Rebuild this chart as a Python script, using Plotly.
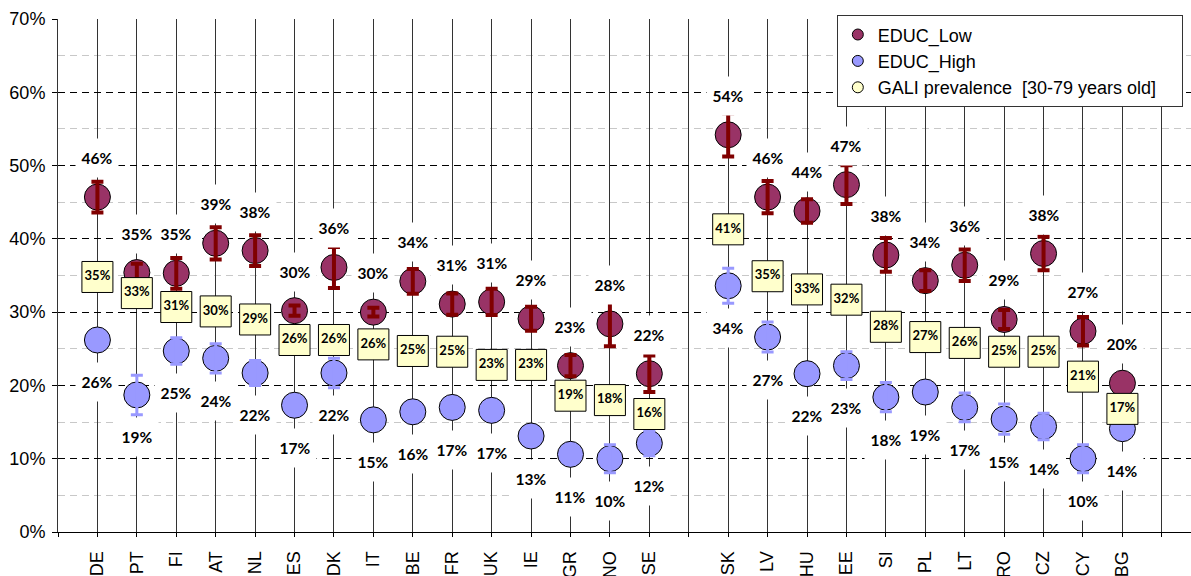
import plotly.graph_objects as go

# Countries in two groups, separated by an empty slot on the category axis
group_a = ["DE", "PT", "FI", "AT", "NL", "ES", "DK", "IT", "BE", "FR", "UK", "IE", "GR", "NO", "SE"]
group_b = ["SK", "LV", "HU", "EE", "SI", "PL", "LT", "RO", "CZ", "CY", "BG"]

# Share with GALI (%), low and high education, with half-width of the confidence interval
educ_low = [45.7, 35.4, 35.3, 39.4, 38.4, 30.2, 36.1, 30.0, 34.2, 31.1, 31.4, 29.1, 22.7, 28.4, 21.6,
            54.2, 45.7, 43.8, 47.4, 37.8, 34.3, 36.4, 29.0, 38.0, 27.4, 20.3]
educ_low_err = [2.1, 1.2, 2.1, 2.2, 2.1, 0.7, 2.8, 0.6, 1.7, 1.45, 1.8, 1.65, 1.45, 3.05, 2.5,
                2.95, 2.2, 1.6, 2.65, 2.3, 1.4, 2.15, 1.3, 2.3, 1.95, None]
educ_high = [26.2, 18.7, 24.7, 23.7, 21.7, 17.3, 21.7, 15.3, 16.4, 17.0, 16.6, 13.1, 10.6, 10.0, 12.1,
             33.6, 26.6, 21.6, 22.7, 18.4, 19.1, 17.0, 15.4, 14.4, 10.0, 14.1]
educ_high_err = [None, 2.7, 1.8, 2.0, 1.7, None, 2.0, None, None, None, None, None, None, 1.9, 1.7,
                 2.4, 2.05, None, 1.9, 2.0, None, 1.95, 2.05, 1.8, 1.9, None]
# Overall GALI prevalence, 30-79 years old (%)
gali = [34.8, 32.6, 30.7, 30.1, 29.0, 26.2, 26.2, 25.6, 24.7, 24.6, 22.8, 22.8, 18.6, 18.0, 16.1,
        41.3, 34.9, 33.1, 31.7, 28.0, 26.6, 25.8, 24.6, 24.6, 21.2, 16.8]

y_ticks = [0, 10, 20, 30, 40, 50, 60, 70]
y_tick_text = ["0%", "10%", "20%", "30%", "40%", "50%", "60%", "70%"]

series_names = ["EDUC_Low", "EDUC_High", "GALI prevalence\u00a0 [30-79 years old]"]

COL_LOW = "#993366"
COL_HIGH = "#9999FF"
COL_GALI = "#FFFFCC"
COL_ERR_LOW = "#800000"

# Slots on the category axis: empty slot at the origin, between groups and after the last group
slots = [""] + group_a + [""] + group_b + [""]
countries = group_a + group_b
xpos = [slots.index(c) for c in countries]


def pct(v):
    return f"{v:.0f}%"


fig = go.Figure()

# Data points
fig.add_trace(go.Scatter(
    x=xpos, y=educ_low, mode="markers", showlegend=False, hoverinfo="skip",
    marker=dict(symbol="circle", size=26, color=COL_LOW, line=dict(color="black", width=1)),
))
fig.add_trace(go.Scatter(
    x=xpos, y=educ_high, mode="markers", showlegend=False, hoverinfo="skip",
    marker=dict(symbol="circle", size=26, color=COL_HIGH, line=dict(color="black", width=1)),
))

# Confidence intervals, drawn over the circles
lo_idx = [i for i, e in enumerate(educ_low_err) if e is not None]
fig.add_trace(go.Scatter(
    x=[xpos[i] for i in lo_idx], y=[educ_low[i] for i in lo_idx], mode="markers",
    marker=dict(size=1, opacity=0), showlegend=False, hoverinfo="skip",
    error_y=dict(type="data", array=[educ_low_err[i] for i in lo_idx], symmetric=True,
                 color=COL_ERR_LOW, thickness=4, width=6),
))
hi_idx = [i for i, e in enumerate(educ_high_err) if e is not None]
fig.add_trace(go.Scatter(
    x=[xpos[i] for i in hi_idx], y=[educ_high[i] for i in hi_idx], mode="markers",
    marker=dict(size=1, opacity=0), showlegend=False, hoverinfo="skip",
    error_y=dict(type="data", array=[educ_high_err[i] for i in hi_idx], symmetric=True,
                 color=COL_HIGH, thickness=3, width=6),
))

# GALI prevalence boxes with their value
fig.add_trace(go.Scatter(
    x=xpos, y=gali, mode="markers+text", showlegend=False, hoverinfo="skip",
    marker=dict(symbol="square", size=31, color=COL_GALI, line=dict(color="black", width=1)),
    text=[pct(v) for v in gali], textposition="middle center",
    textfont=dict(family="Lato", size=13, color="black", weight="bold"),
))

# Legend entries (round symbols); trailing spaces widen the legend box
legend_labels = [series_names[0], series_names[1], series_names[2] + "\u00a0" * 4]
for name, col in zip(legend_labels, [COL_LOW, COL_HIGH, COL_GALI]):
    fig.add_trace(go.Scatter(
        x=[None], y=[None], mode="markers", name=name, hoverinfo="skip",
        marker=dict(symbol="circle", size=11, color=col, line=dict(color="black", width=1)),
    ))

# Value labels above the low-education points and below the high-education points
label_font = dict(family="Lato", size=15.5, color="black", weight="bold")
for x, v in zip(xpos, educ_low):
    fig.add_annotation(x=x, y=v, text=pct(v), showarrow=False, yshift=39,
                       xanchor="center", yanchor="middle", bgcolor="white",
                       width=40, height=36, borderpad=1, font=label_font)
for x, v in zip(xpos, educ_high):
    fig.add_annotation(x=x, y=v, text=pct(v), showarrow=False, yshift=-42.5,
                       xanchor="center", yanchor="middle", bgcolor="white",
                       width=40, height=36, borderpad=1, font=label_font)

fig.update_layout(
    width=1191, height=576,
    margin=dict(l=58, r=0, t=19, b=44, autoexpand=False),
    paper_bgcolor="white", plot_bgcolor="white",
    hovermode=False,
    font=dict(family="Liberation Sans, Arial, sans-serif", size=18, color="black"),
    legend=dict(
        x=0.6874, y=1.0072, xanchor="left", yanchor="top",
        bgcolor="white", bordercolor="#333333", borderwidth=1,
        font=dict(family="Liberation Sans, Arial, sans-serif", size=18, color="black"),
        itemsizing="trace", tracegroupgap=0,
    ),
    showlegend=True,
)

fig.update_xaxes(
    range=[0, 28.74], tickmode="array",
    tickvals=list(range(len(slots))), ticktext=slots,
    tickangle=-90, ticks="outside", ticklen=4, tickcolor="black",
    ticklabelstandoff=7,
    showgrid=True, gridcolor="#333333", gridwidth=1,
    showline=True, linecolor="black", linewidth=1,
    zeroline=False, automargin=False,
    tickfont=dict(family="Liberation Sans, Arial, sans-serif", size=18, color="black"),
)
fig.update_yaxes(
    range=[0, 70], tickmode="array", tickvals=y_ticks, ticktext=y_tick_text,
    ticks="outside", ticklen=5, tickcolor="black", ticklabelstandoff=3,
    showgrid=True, gridcolor="black", gridwidth=1, griddash="7px,5px",
    minor=dict(dtick=5, showgrid=True, gridcolor="#C8C8C8", griddash="7px,5px", ticks=""),
    showline=True, linecolor="#333333", linewidth=1,
    zeroline=False, automargin=False,
    tickfont=dict(family="Liberation Sans, Arial, sans-serif", size=18, color="black"),
)

fig.write_html("out.html", config={"displayModeBar": False})
